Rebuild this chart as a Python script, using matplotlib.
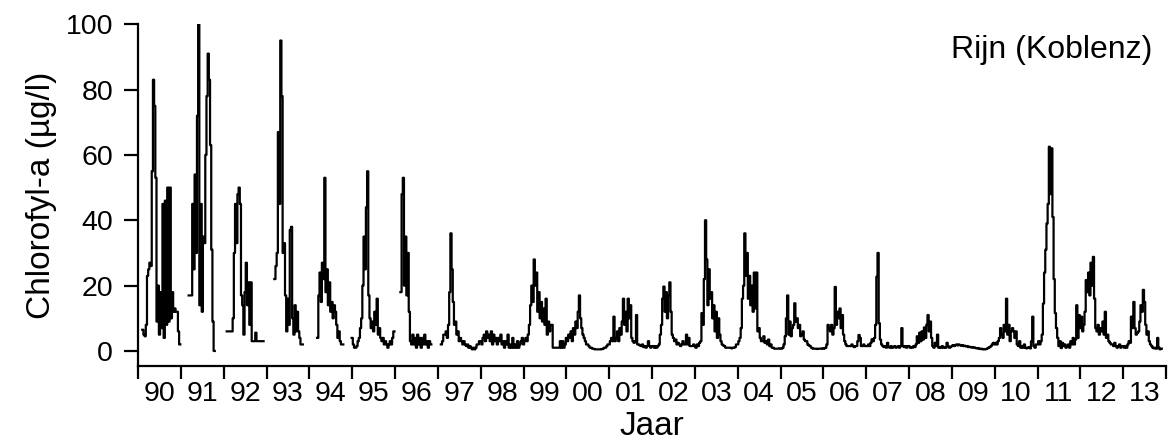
import numpy as np
import matplotlib
matplotlib.use("Agg")
import matplotlib.pyplot as plt
from matplotlib.ticker import FixedLocator, NullFormatter

nan = np.nan

# chlorofyl-a (ug/l), 36 waarden per jaar (~10 dagen), nan = geen meting
y1990 = [nan, nan, nan, nan, 6.5, 5, 4.5, 8, 23, 25, 27, 26, 55, 83, 75, 53, 9, 20,
         5, 18, 7, 45, 4, 46, 8, 50, 9, 50, 10, 18, 12, 13, 12, 12, 6, 2]
y1991 = [nan, nan, nan, nan, nan, nan, nan, 17, 17, 17, 45, 25, 54, 30, 72, 100, 14, 45,
         12, 35, 33, 60, 78, 91, 83, 63, 31, 9, 0, nan, nan, nan, nan, nan, nan, nan]
y1992 = [nan, nan, nan, 6, 6, 6, 6, 6, 10, 30, 45, 33, 48, 50, 45, 17, 14, 5,
         18, 27, 14, 21, 8, 21, 3, 3, 3, 5.6, 3, 3, 3, 3, 3, 3, nan, nan]
y1993 = [nan, nan, nan, nan, nan, nan, nan, 22, 26, 30, 67, 45, 95, 78, 30, 33, 17, 6,
         16, 8, 37, 38, 10, 5, 14, 6, 12, 6, 4, 2, 2, nan, nan, nan, nan, nan]
y1994 = [nan, nan, nan, nan, nan, nan, nan, 4, 17, 24, 15, 27, 22, 53, 18, 25, 14, 21,
         12, 15, 10, 14, 12, 8, 4, 6, 3, 2, 2, nan, nan, nan, nan, nan, nan, nan]
y1995 = [4, 2, 1, 1, 1.5, 3, 4, 7, 10, 20, 35, 25, 44, 55, 17, 10, 7, 9,
         6, 12, 8, 16, 5, 7, 4, 3, 4, 2, 3, 2, 1, 2, 3, 2, 4, 6]
y1996 = [nan, nan, nan, nan, nan, 18, 48, 53, 20, 35, 17, 30, 12, 3, 2, 5, 2, 4,
         1, 5, 2, 4, 1, 4, 2, 5, 2, 3, 1, 3, 2, nan, nan, nan, nan, nan]
y1997 = [nan, nan, nan, 2, 3, 5, 5, 6, 4, 8, 18, 36, 25, 15, 8, 9, 5, 6,
         3, 4, 3, 2, 3, 2, 1.5, 2, 1, 1.5, 1, 0.5, 1, 0.5, 1, 2, 2, 3]
y1998 = [3, 2, 4, 5, 3, 6, 4, 5, 3, 6, 2, 5, 3, 4, 2, 4, 3, 5,
         2, 3, 1, 3, 2, 5, 1, 2, 1, 4, 1, 2, 1, 3, 1, 2, 3, 4]
y1999 = [2, 3, 4, 3, 5, 8, 14, 20, 15, 28, 20, 24, 12, 18, 10, 15, 9, 13,
         8, 16, 5, 9, 6, 8, 8, 1, 1, 1, 1, 1, 1, 3, 1, 3, 1, 2]
y2000 = [4, 3, 5, 4, 6, 3, 7, 5, 9, 7, 12, 17, 10, 7, 5, 4, 3, 2,
         2, 1.5, 1, 1, 0.7, 0.7, 0.5, 0.5, 0.5, 0.5, 0.5, 0.5, 0.6, 0.7, 1, 1, 1.5, 2]
y2001 = [2, 3, 4, 3, 10.5, 3, 4, 6, 3, 7, 5, 9, 16, 8, 12, 6, 16, 10,
         14, 4, 3, 2.5, 3, 11, 2, 2, 1.7, 1.5, 2, 1.2, 1.5, 1, 1.5, 3, 1.5, 1]
y2002 = [1.5, 1.5, 1, 1.5, 1, 1.5, 2, 5, 8, 16, 19.7, 12, 18, 10, 17, 21, 12, 5,
         4, 3, 3.5, 2, 2.5, 2, 1.5, 2, 3, 2, 2, 5, 2, 4, 1.5, 1.5, 1.5, 2]
y2003 = [1.5, 1, 2, 1.5, 2.5, 3, 11.6, 8, 22, 40, 28, 14, 25, 16, 18, 10, 14, 6,
         12, 4, 10, 5, 3, 2, 1.7, 1.5, 1, 1, 1, 1, 1, 0.8, 1, 1, 1.2, 2]
y2004 = [2, 3, 4, 7, 16, 20, 36, 23, 30, 16, 23, 14, 20, 12, 24, 13, 24, 6,
         7, 4, 3, 3, 4.5, 2.5, 3, 2, 3.5, 1.5, 2, 1, 1, 0.7, 0.7, 0.7, 0.7, 0.8]
y2005 = [0.8, 0.7, 1, 2, 4.5, 10, 17, 5, 9, 4.5, 7, 8, 14.6, 9, 10, 7, 8, 4.5,
         5, 6, 3.5, 3, 3, 2, 1.7, 1.5, 1, 0.8, 0.7, 0.7, 0.7, 0.6, 0.7, 0.7, 0.7, 0.8]
y2006 = [0.7, 0.8, 1, 2, 8, 7, 6, 8, 5, 7, 19.6, 8, 12, 10, 13, 7, 11, 5,
         3, 2, 1.5, 1.5, 1.5, 1.5, 2, 1.5, 1.2, 1.5, 1.5, 3, 4.9, 4, 1.5, 1.5, 2, 1.5]
y2007 = [1.5, 1.5, 2, 1.5, 2.5, 3.6, 3, 4, 8, 22.7, 30, 8.5, 3.5, 2, 1.5, 1.2, 1.5, 1,
         2.5, 1.2, 1, 1.5, 1, 1.2, 1.5, 1, 1.2, 1.5, 1, 1.5, 7, 1.5, 1.2, 1.5, 1, 1.5]
y2008 = [1.5, 1, 1.2, 1, 1.5, 1.2, 2, 4.5, 2.5, 5.6, 3, 6, 3.5, 7.2, 4, 8, 11, 6,
         9, 4, 1.5, 1, 2.5, 1.5, 5, 1, 1.2, 1, 1.5, 1, 1.2, 1, 2.5, 1.5, 1, 1.2]
y2009 = [1.5, 1.8, 1.5, 1.8, 2, 1.7, 2, 1.8, 1.6, 1.8, 1.5, 1.6, 1.4, 1.5, 1.2, 1.3, 1.1, 1.2,
         1, 1.1, 0.9, 0.8, 0.9, 0.7, 0.6, 0.7, 0.5, 0.6, 0.5, 0.6, 0.8, 1, 1.2, 1.5, 2, 2.5]
y2010 = [2, 2.5, 2, 3, 4, 7, 5, 4, 8, 6, 16, 5, 8, 3, 6, 7, 6, 4,
         6, 2, 1.5, 3, 1, 1.5, 1, 2, 1, 0.8, 1, 1.2, 0.8, 3, 10.5, 1.5, 1, 2]
y2011 = [2, 3, 2, 3, 5, 14.5, 24, 31, 39, 45, 62.5, 48, 62, 41, 22, 11.6, 7, 4,
         1.5, 3, 0.9, 2.5, 1.5, 2, 1, 1.5, 2, 1, 3, 2, 4, 2, 3.5, 14, 4, 11]
y2012 = [7, 10.5, 6, 8, 12, 21.7, 18, 24, 17, 27, 20, 28.8, 16, 7, 6, 8, 5, 7,
         6, 9, 5, 12, 4, 5, 3, 2.5, 2, 2, 1.5, 2.5, 1.5, 1, 1.5, 2, 1, 1.5]
y2013 = [1.5, 1, 1.5, 1, 2, 3, 2.5, 10.5, 7, 15, 7, 5, 5.5, 6, 9, 14, 12, 18.7,
         15, 8, 5, 6, 3, 2, 1.5, 1, 0.8, 1, 0.7, 4, 1, 0.5, 0.7, nan, nan, nan]

jaren = list(range(1990, 2014))
reeksen = [y1990, y1991, y1992, y1993, y1994, y1995, y1996, y1997, y1998, y1999,
           y2000, y2001, y2002, y2003, y2004, y2005, y2006, y2007, y2008, y2009,
           y2010, y2011, y2012, y2013]
jaar_labels = ["%02d" % (j % 100) for j in jaren]

tijd = np.concatenate([j + np.arange(len(r)) / len(r) for j, r in zip(jaren, reeksen)])
chl = np.concatenate([np.array(r, dtype=float) for r in reeksen])

plt.rcParams["font.family"] = ["Liberation Sans", "DejaVu Sans"]

fig = plt.figure(figsize=(11.70, 4.48), dpi=100)
ax = fig.add_axes([0.118, 0.183, 0.8786, 0.763])
ax.plot(tijd, chl, color="black", linewidth=1.6, drawstyle="steps-mid")

ax.set_xlim(1990, 2014)
ax.set_ylim(-4.6, 100)
ax.set_yticks([0, 20, 40, 60, 80, 100])
ax.xaxis.set_major_locator(FixedLocator(jaren + [2014]))
ax.xaxis.set_major_formatter(NullFormatter())
ax.xaxis.set_minor_locator(FixedLocator([j + 0.5 for j in jaren]))
ax.set_xticklabels(jaar_labels, minor=True)

for s in ["top", "right"]:
    ax.spines[s].set_visible(False)
for s in ["left", "bottom"]:
    ax.spines[s].set_linewidth(1.6)

ax.tick_params(axis="y", direction="out", length=10, width=1.6, pad=8, labelsize=20.5)
ax.tick_params(axis="x", which="major", direction="out", length=9, width=1.6)
ax.tick_params(axis="x", which="minor", length=0, pad=11, labelsize=20.5)

ax.set_ylabel("Chlorofyl-a (µg/l)", fontsize=24, labelpad=6)
ax.set_xlabel("Jaar", fontsize=24, labelpad=3)
ax.text(0.987, 0.924, "Rijn (Koblenz)", transform=ax.transAxes, ha="right", va="center",
        fontsize=23)

fig.savefig("out.png", dpi=100)
